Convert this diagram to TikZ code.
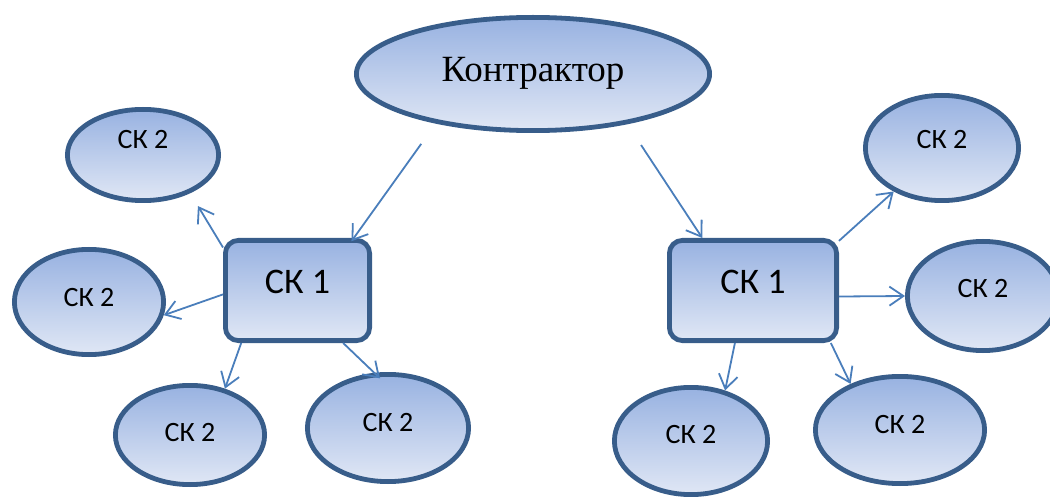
\documentclass[tikz,border=0pt]{standalone}
\usepackage{fontspec}
\setmainfont{Liberation Serif}
\newfontfamily\carlfont{Carlito}
\usetikzlibrary{shapes.geometric,arrows.meta}
\definecolor{edgeblue}{RGB}{56,93,138}
\definecolor{arrowblue}{RGB}{74,126,187}
\definecolor{filltop}{RGB}{152,178,225}
\definecolor{fillbot}{RGB}{224,231,245}
\begin{document}
\begin{tikzpicture}[x=1pt,y=-1pt,
  shapebase/.style={draw=edgeblue, line width=4.8pt, top color=filltop, bottom color=fillbot, inner sep=0pt, text=black},
  oval/.style={shapebase, ellipse},
  sktwo/.style={oval, font=\carlfont\fontsize{28}{30}\selectfont, text height=18pt},
  skone/.style={shapebase, rectangle, rounded corners=13pt, font=\carlfont\fontsize{36}{40}\selectfont, text height=23pt, text depth=17pt, minimum height=100.2pt},
  arr/.style={draw=arrowblue, line width=1.8pt, -{Straight Barb[length=14pt,width=19pt]}}
]
\useasboundingbox (0,0) rectangle (1050,497);

\node[oval, minimum width=353.2pt, minimum height=113.2pt, font=\fontsize{37}{40}\selectfont, text height=24pt, text depth=9pt] (ctr) at (533,74) {Контрактор};

\node[skone, minimum width=144.2pt] (L1) at (297.5,290.5) {СК 1};
\node[skone, minimum width=167.2pt] (R1) at (753,290.5) {СК 1};

\node[sktwo, minimum width=151.2pt, minimum height=91.2pt, text depth=30pt] (e1) at (143,155) {СК 2};
\node[sktwo, minimum width=149.2pt, minimum height=105.2pt, text depth=10pt] (e2) at (89,302) {СК 2};
\node[sktwo, minimum width=149.2pt, minimum height=99.2pt, text depth=6pt] (e3) at (190,435) {СК 2};
\node[sktwo, minimum width=161.2pt, minimum height=107.2pt, text depth=12pt] (e4) at (388,428) {СК 2};
\node[sktwo, minimum width=153.2pt, minimum height=105.2pt, text depth=16pt] (e5) at (942,148) {СК 2};
\node[sktwo, minimum width=151.2pt, minimum height=109.2pt, text depth=14pt] (e6) at (983,296) {СК 2};
\node[sktwo, minimum width=153.2pt, minimum height=107.2pt, text depth=14pt] (e7) at (691,441) {СК 2};
\node[sktwo, minimum width=169.2pt, minimum height=107.2pt, text depth=12pt] (e8) at (900,430) {СК 2};

\draw[arr, shorten <=25pt, shorten >=-4pt] (ctr.207.5) -- (L1.43);
\draw[arr, shorten <=25pt] (ctr.332.7) -- (R1.134);
\draw[arr, shorten >=15pt] (L1.150) -- (e1.321);
\draw[arr] (L1.183) -- (e2.350);
\draw[arr] (L1.223) -- (e3.53);
\draw[arr, shorten >=-8pt] (L1.311) -- (e4.104);
\draw[arr] (R1.30) -- (e5.222);
\draw[arr] (R1.356) -- (e6.180);
\draw[arr] (R1.251) -- (e7.56);
\draw[arr] (R1.326) -- (e8.137);
\end{tikzpicture}
\end{document}
